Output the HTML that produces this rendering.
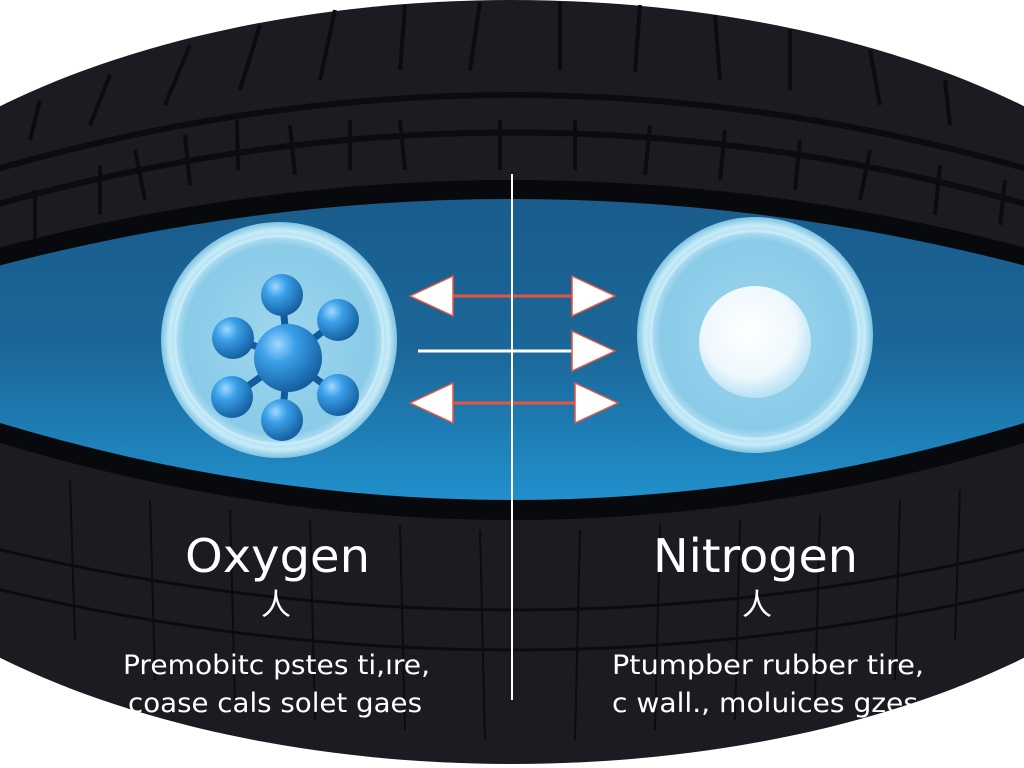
<!DOCTYPE html>
<html><head><style>
body{margin:0;width:1024px;height:768px;overflow:hidden;background:#fff}
svg{display:block}
text{font-family:"Liberation Sans Narrow","DejaVu Sans","Liberation Sans",sans-serif;fill:#fff}
</style></head><body>
<svg width="1024" height="768" viewBox="0 0 1024 768">
<defs>
<linearGradient id="lensg" x1="0" y1="0" x2="0" y2="1">
<stop offset="0" stop-color="#1a5c8c"/><stop offset="0.5" stop-color="#1b6799"/><stop offset="1" stop-color="#2190cc"/>
</linearGradient>
<radialGradient id="bub" cx="0.5" cy="0.5" r="0.5">
<stop offset="0" stop-color="#9ed6ee"/><stop offset="0.8" stop-color="#8acbe8"/><stop offset="0.93" stop-color="#c8ecf8"/><stop offset="1" stop-color="#7cc2e2"/>
</radialGradient>
<radialGradient id="ball" cx="0.35" cy="0.3" r="0.75">
<stop offset="0" stop-color="#9fd8ff"/><stop offset="0.35" stop-color="#3aa0e8"/><stop offset="1" stop-color="#125a9c"/>
</radialGradient>
<radialGradient id="wsph" cx="0.45" cy="0.4" r="0.6">
<stop offset="0" stop-color="#ffffff"/><stop offset="0.7" stop-color="#eef8fd"/><stop offset="1" stop-color="#b5e1f3"/>
</radialGradient>
</defs>
<ellipse cx="512" cy="382" rx="740" ry="382" fill="#1b1c22"/>
<g fill="none" stroke="#0b0c10" stroke-width="6">
<path d="M-40 180 Q512 10 1064 180"/>
<path d="M-40 215 Q512 50 1064 215"/>
<path d="M-40 540 Q512 680 1064 540" stroke-width="3"/>
<path d="M-40 580 Q512 720 1064 580" stroke-width="3"/>
</g>
<g stroke="#0b0c10" stroke-width="4">
<line x1="40" y1="100" x2="30" y2="140"/>
<line x1="110" y1="75" x2="90" y2="125"/>
<line x1="190" y1="45" x2="165" y2="105"/>
<line x1="260" y1="25" x2="240" y2="90"/>
<line x1="335" y1="10" x2="320" y2="80"/>
<line x1="405" y1="5" x2="400" y2="70"/>
<line x1="480" y1="2" x2="470" y2="70"/>
<line x1="560" y1="2" x2="560" y2="70"/>
<line x1="640" y1="5" x2="635" y2="72"/>
<line x1="715" y1="15" x2="720" y2="80"/>
<line x1="790" y1="30" x2="790" y2="90"/>
<line x1="870" y1="50" x2="880" y2="105"/>
<line x1="945" y1="80" x2="950" y2="125"/>
<line x1="35" y1="190" x2="35" y2="240"/>
<line x1="100" y1="165" x2="100" y2="215"/>
<line x1="135" y1="150" x2="145" y2="200"/>
<line x1="185" y1="135" x2="190" y2="185"/>
<line x1="237" y1="120" x2="238" y2="170"/>
<line x1="290" y1="125" x2="295" y2="175"/>
<line x1="350" y1="120" x2="350" y2="170"/>
<line x1="400" y1="120" x2="405" y2="170"/>
<line x1="500" y1="120" x2="500" y2="170"/>
<line x1="575" y1="120" x2="575" y2="170"/>
<line x1="650" y1="125" x2="645" y2="175"/>
<line x1="725" y1="130" x2="720" y2="180"/>
<line x1="800" y1="140" x2="795" y2="190"/>
<line x1="870" y1="150" x2="860" y2="200"/>
<line x1="940" y1="165" x2="935" y2="215"/>
<line x1="1005" y1="180" x2="1000" y2="225"/>
</g>
<g stroke="#0b0c10" stroke-width="2">
<line x1="70" y1="480" x2="75" y2="640"/><line x1="150" y1="500" x2="155" y2="680"/>
<line x1="230" y1="510" x2="235" y2="700"/><line x1="310" y1="520" x2="315" y2="720"/>
<line x1="400" y1="525" x2="405" y2="730"/><line x1="480" y1="530" x2="485" y2="740"/>
<line x1="580" y1="530" x2="575" y2="740"/><line x1="660" y1="525" x2="655" y2="730"/>
<line x1="740" y1="520" x2="735" y2="720"/><line x1="820" y1="515" x2="815" y2="700"/>
<line x1="900" y1="500" x2="895" y2="680"/><line x1="960" y1="490" x2="955" y2="640"/>
</g>
<path d="M-10 250 Q512 110 1034 250 L1034 440 Q512 600 -10 440 Z" fill="#08090c"/>
<path d="M-10 268 Q512 130 1034 268 L1034 420 Q512 580 -10 420 Z" fill="url(#lensg)"/>
<circle cx="279" cy="340" r="118" fill="url(#bub)"/>
<circle cx="279" cy="340" r="104" fill="none" stroke="#d5f1fb" stroke-width="3" opacity="0.6"/>
<g stroke="#125a9c" stroke-width="7">
<line x1="288" y1="358" x2="282" y2="295"/><line x1="288" y1="358" x2="338" y2="320"/>
<line x1="288" y1="358" x2="233" y2="338"/><line x1="288" y1="358" x2="232" y2="397"/>
<line x1="288" y1="358" x2="338" y2="395"/><line x1="288" y1="358" x2="282" y2="420"/>
</g>
<circle cx="282" cy="295" r="21" fill="url(#ball)"/>
<circle cx="338" cy="320" r="21" fill="url(#ball)"/>
<circle cx="233" cy="338" r="21" fill="url(#ball)"/>
<circle cx="232" cy="397" r="21" fill="url(#ball)"/>
<circle cx="338" cy="395" r="21" fill="url(#ball)"/>
<circle cx="282" cy="420" r="21" fill="url(#ball)"/>
<circle cx="288" cy="358" r="34" fill="url(#ball)"/>
<circle cx="755" cy="335" r="118" fill="url(#bub)"/>
<circle cx="755" cy="335" r="104" fill="none" stroke="#d5f1fb" stroke-width="3" opacity="0.6"/>
<circle cx="755" cy="342" r="56" fill="url(#wsph)"/>
<g stroke="#e8553e" stroke-width="3">
<line x1="450" y1="296" x2="575" y2="296"/>
<line x1="450" y1="403" x2="575" y2="403"/>
</g>
<line x1="418" y1="351" x2="575" y2="351" stroke="#fff" stroke-width="3"/>
<g fill="#fff" stroke="#e8553e" stroke-width="1.5">
<polygon points="410,296 453,276 453,316"/>
<polygon points="410,403 453,383 453,423"/>
<polygon points="615,296 572,276 572,316"/>
<polygon points="615,351 572,331 572,371"/>
<polygon points="618,403 575,383 575,423"/>
</g>
<line x1="512" y1="174" x2="512" y2="700" stroke="#fff" stroke-width="2"/>
<text x="185" y="572" font-size="46" textLength="185" lengthAdjust="spacingAndGlyphs">Oxygen</text>
<text x="653" y="572" font-size="46" textLength="205" lengthAdjust="spacingAndGlyphs">Nitrogen</text>
<text x="276" y="615" font-size="30" text-anchor="middle" style="font-family:'Noto Sans CJK SC',sans-serif">人</text>
<text x="757" y="615" font-size="30" text-anchor="middle" style="font-family:'Noto Sans CJK SC',sans-serif">人</text>
<text x="123" y="674" font-size="27" textLength="307" lengthAdjust="spacingAndGlyphs">Premobitc pstes ti,ıre,</text>
<text x="128" y="712" font-size="27" textLength="294" lengthAdjust="spacingAndGlyphs">coase cals solet gaes</text>
<text x="612" y="674" font-size="27" textLength="312" lengthAdjust="spacingAndGlyphs">Ptumpber rubber tire,</text>
<text x="612" y="712" font-size="27" textLength="306" lengthAdjust="spacingAndGlyphs">c wall., moluices gzes</text>
</svg>
</body></html>
